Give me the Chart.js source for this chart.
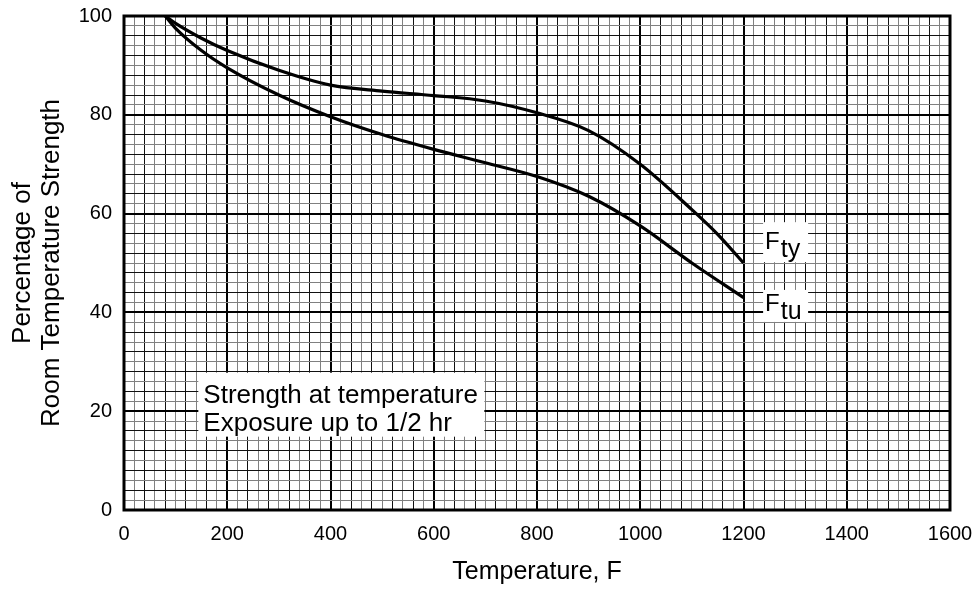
<!DOCTYPE html>
<html>
<head>
<meta charset="utf-8">
<script src="https://cdn.jsdelivr.net/npm/chart.js@4.4.0/dist/chart.umd.min.js"></script>
<style>
  html, body { margin: 0; padding: 0; background: #fff; }
  #wrap { width: 979px; height: 590px; }
</style>
</head>
<body>
<div id="wrap"><canvas id="c" width="979" height="590"></canvas></div>
<script>
// temperature (F) vs percentage of room temperature strength
const ftyTemp = [80, 100, 150, 200, 300, 400, 500, 600, 700, 800, 900, 1000, 1100, 1150, 1200];
const ftyPct  = [100, 98.5, 95.5, 93, 89, 86, 84.8, 83.9, 82.8, 80.4, 76.8, 70, 60.8, 55.8, 50];

const ftuTemp = [80, 100, 150, 200, 300, 400, 500, 600, 700, 800, 900, 1000, 1100, 1200];
const ftuPct  = [100, 97.5, 93, 89.5, 84, 79.6, 76, 73, 70.3, 67.5, 63.5, 57.5, 50, 43];

const xTicks = [0, 200, 400, 600, 800, 1000, 1200, 1400, 1600];
const yTicks = [0, 20, 40, 60, 80, 100];

const noteLines = ['Strength at temperature', 'Exposure up to 1/2 hr'];

const toPts = (xs, ys) => xs.map((x, i) => ({ x: x, y: ys[i] }));

const FONT = 'Liberation Sans, Arial, sans-serif';

// curve labels and note box, drawn on top of the grid
const labelsPlugin = {
    id: 'labels',
    afterDatasetsDraw(chart) {
        const ctx = chart.ctx;
        const xs = chart.scales.x;
        const ys = chart.scales.y;
        const area = chart.chartArea;

        // note box
        const bx = xs.getPixelForValue(144);
        const by = ys.getPixelForValue(27.8);
        ctx.save();
        ctx.fillStyle = '#fff';
        ctx.fillRect(bx, by, 286, 64);
        ctx.fillStyle = '#000';
        ctx.font = '26px ' + FONT;
        ctx.textBaseline = 'alphabetic';
        ctx.fillText(noteLines[0], bx + 5, by + 30);
        ctx.fillText(noteLines[1], bx + 5, by + 58);

        // subscript labels
        const drawSub = (main, sub, xv, yv, top, h) => {
            const px = xs.getPixelForValue(xv);
            const py = ys.getPixelForValue(yv);
            ctx.fillStyle = '#fff';
            ctx.fillRect(px, py - top, 45, h);
            ctx.fillStyle = '#000';
            ctx.font = '24px ' + FONT;
            ctx.fillText(main, px + 2, py);
            const w = ctx.measureText(main).width;
            ctx.font = '25px ' + FONT;
            ctx.fillText(sub, px + 3 + w, py + 8);
        };
        drawSub('F', 'ty', 1238, 52.8, 27, 40);
        drawSub('F', 'tu', 1238, 40.3, 21, 32);

        // heavy frame
        ctx.strokeStyle = '#000';
        ctx.lineWidth = 3;
        ctx.strokeRect(area.left, area.top, area.right - area.left, area.bottom - area.top);
        ctx.restore();
    }
};

const gridColor = (major) => (c) => {
    const v = c.tick ? c.tick.value : 0;
    if (Math.round(v) % major === 0) return '#000';
    return (c.index % 2 === 0) ? '#111' : '#808080';
};
const gridWidth = (major) => (c) => {
    const v = c.tick ? c.tick.value : 0;
    return Math.round(v) % major === 0 ? 2 : 1;
};

new Chart(document.getElementById('c'), {
    type: 'line',
    data: {
        datasets: [{
            label: 'Fty',
            data: toPts(ftyTemp, ftyPct),
            borderColor: '#000',
            borderWidth: 3.2,
            pointRadius: 0,
            fill: false,
            cubicInterpolationMode: 'monotone'
        }, {
            label: 'Ftu',
            data: toPts(ftuTemp, ftuPct),
            borderColor: '#000',
            borderWidth: 3.2,
            pointRadius: 0,
            fill: false,
            cubicInterpolationMode: 'monotone'
        }]
    },
    options: {
        responsive: false,
        animation: false,
        devicePixelRatio: 1,
        layout: { padding: { left: 0, right: 29, top: 16, bottom: 0 } },
        plugins: {
            legend: { display: false },
            tooltip: { enabled: false }
        },
        scales: {
            x: {
                type: 'linear',
                min: 0,
                max: 1600,
                afterBuildTicks: (s) => {
                    const t = [];
                    for (let v = 0; v <= 1600; v += 20) t.push({ value: v });
                    s.ticks = t;
                },
                afterFit: (s) => {
                    s.height = 80;
                    s.paddingLeft = 0;
                    s.paddingRight = 0;
                },
                ticks: {
                    autoSkip: false,
                    maxRotation: 0,
                    color: '#000',
                    font: { family: FONT, size: 20 },
                    padding: 12,
                    callback: (v) => xTicks.includes(v) ? String(v) : ''
                },
                grid: {
                    drawTicks: false,
                    color: gridColor(200),
                    lineWidth: gridWidth(200)
                },
                border: { display: false },
                title: {
                    display: true,
                    text: 'Temperature, F',
                    color: '#000',
                    font: { family: FONT, size: 25, lineHeight: 1.2 },
                    padding: { top: 10, bottom: 3 }
                }
            },
            y: {
                type: 'linear',
                min: 0,
                max: 100,
                afterBuildTicks: (s) => {
                    const t = [];
                    for (let v = 0; v <= 100; v += 2) t.push({ value: v });
                    s.ticks = t;
                },
                afterFit: (s) => {
                    s.width = 124;
                    s.paddingTop = 0;
                    s.paddingBottom = 0;
                },
                ticks: {
                    autoSkip: false,
                    color: '#000',
                    font: { family: FONT, size: 20 },
                    padding: 12,
                    callback: (v) => yTicks.includes(v) ? String(v) : ''
                },
                grid: {
                    drawTicks: false,
                    color: gridColor(20),
                    lineWidth: gridWidth(20)
                },
                border: { display: false },
                title: {
                    display: true,
                    text: ['Percentage of', 'Room Temperature Strength'],
                    color: '#000',
                    font: { family: FONT, size: 26, lineHeight: 1.115 },
                    padding: { top: 8, bottom: 0 }
                }
            }
        }
    },
    plugins: [labelsPlugin]
});
</script>
</body>
</html>
